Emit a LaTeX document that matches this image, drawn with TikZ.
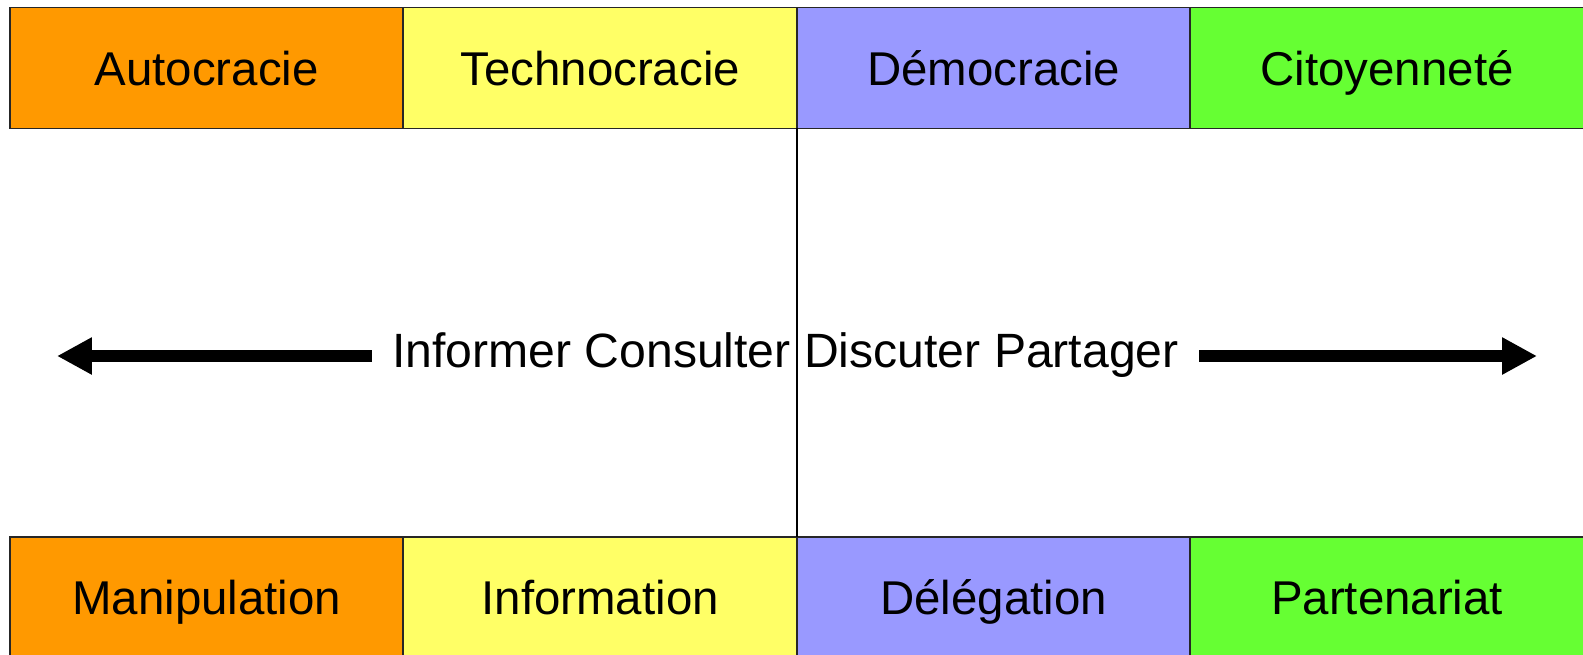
\documentclass[tikz,border=0pt]{standalone}
\usepackage{fontspec}
\setmainfont{Liberation Sans}
\usetikzlibrary{positioning,arrows.meta}
\definecolor{autoorange}{HTML}{FF9900}
\definecolor{technoyellow}{HTML}{FFFF66}
\definecolor{democblue}{HTML}{9999FF}
\definecolor{citgreen}{HTML}{66FF33}
\tikzset{
  band/.style={draw=black!85, line width=1.1pt, outer sep=0pt, minimum width=7.87cm,
    minimum height=2.42cm, inner sep=0pt, text height=19.4pt, text depth=0pt,
    font=\fontsize{27pt}{32pt}\selectfont},
  bigarrow/.style={line width=0.24cm, -{Triangle[length=0.7cm,width=0.7cm]}}
}
\begin{document}
\begin{tikzpicture}[x=0.02cm,y=-0.02cm]
    \useasboundingbox (0,0) rectangle (1583,654);
    \clip (0,0) rectangle (1583,654);

    % Top row
    \node[band, fill=autoorange] (autocratie) at (206.75,68) {Autocracie};
    \node[band, fill=technoyellow, right=0pt of autocratie] (technocratie) {Technocracie};
    \node[band, fill=democblue, right=0pt of technocratie] (democratie) {Démocracie};
    \node[band, fill=citgreen, right=0pt of democratie] (citoyennete) {Citoyenneté};

    % Bottom row
    \node[band, fill=autoorange] (manipulation) at (206.75,597.5) {Manipulation};
    \node[band, fill=technoyellow, right=0pt of manipulation] (information) {Information};
    \node[band, fill=democblue, right=0pt of information] (delegation) {Délégation};
    \node[band, fill=citgreen, right=0pt of delegation] (partenariat) {Partenariat};

    % Middle line
    \draw[line width=0.8pt] (technocratie.south east) -- (information.north east);

    % Scale of actions
    \node[inner xsep=0.4cm, inner ysep=0pt, text height=19.6pt, text depth=0pt,
      font=\fontsize{27.4pt}{32pt}\selectfont] (actions) at (785.5,350) {Informer Consulter Discuter Partager};
    \coordinate (tipleft) at (57,356);
    \coordinate (tipright) at (1537,356);
    \draw[bigarrow] (actions.west |- tipleft) -- (tipleft);
    \draw[bigarrow] (actions.east |- tipright) -- (tipright);
\end{tikzpicture}
\end{document}
